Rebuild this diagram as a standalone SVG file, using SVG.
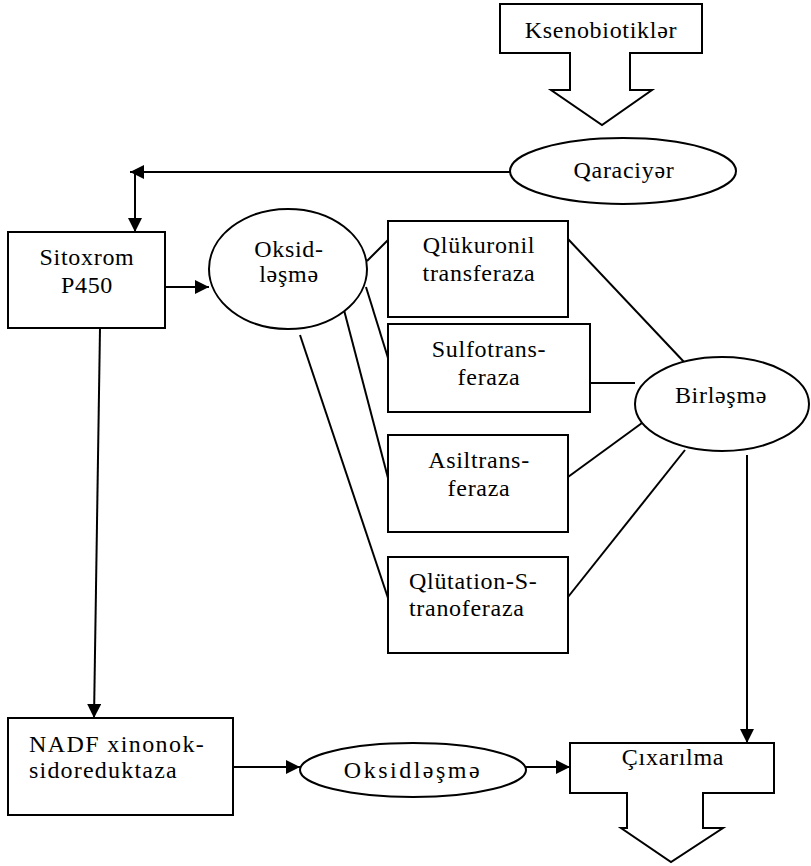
<svg xmlns="http://www.w3.org/2000/svg" width="811" height="866" viewBox="0 0 811 866">
  <defs>
    <marker id="arrow" viewBox="0 0 10 10" refX="10" refY="5" markerUnits="userSpaceOnUse" markerWidth="16" markerHeight="14" orient="auto">
      <path d="M0,0 L10,5 L0,10 Z" fill="#000"/>
    </marker>
  </defs>
  <rect width="811" height="866" fill="#fff"/>

  <!-- connectors -->
  <g id="connectors" fill="none" stroke="#000" stroke-width="2">
    <line x1="510" y1="172" x2="130" y2="172" marker-end="url(#arrow)"/>
    <line x1="135" y1="172" x2="135" y2="232" marker-end="url(#arrow)"/>
    <line x1="165" y1="287" x2="209" y2="287" marker-end="url(#arrow)"/>
    <line x1="100" y1="328" x2="94" y2="718" marker-end="url(#arrow)"/>
    <line x1="747" y1="455" x2="747" y2="743" marker-end="url(#arrow)"/>
    <line x1="233" y1="767" x2="300" y2="767" marker-end="url(#arrow)"/>
    <line x1="525" y1="767" x2="570" y2="767" marker-end="url(#arrow)"/>
    <!-- oxidation to transferases -->
    <line x1="367" y1="261" x2="388" y2="240"/>
    <line x1="366" y1="287" x2="388" y2="358"/>
    <line x1="344" y1="310" x2="388" y2="478"/>
    <line x1="300" y1="335" x2="388" y2="598"/>
    <!-- transferases to conjugation -->
    <line x1="568" y1="239" x2="685" y2="363"/>
    <line x1="590" y1="383" x2="635" y2="383"/>
    <line x1="568" y1="477" x2="642" y2="423"/>
    <line x1="568" y1="597" x2="685" y2="450"/>
  </g>

  <!-- node outlines -->
  <g fill="#fff" stroke="#000" stroke-width="2">
    <path id="ksenobiotikler-shape" d="M500,4 H702 V53 H630 V90 H652 L602,125 L551,90 H570 V53 H500 Z"/>
    <ellipse id="qaraciyer-shape" cx="623" cy="171" rx="113" ry="33"/>
    <rect id="sitoxrom-shape" x="8" y="232" width="157" height="96"/>
    <ellipse id="oksidlesme1-shape" cx="288" cy="269" rx="79" ry="60"/>
    <rect id="qlukuronil-shape" x="388" y="221" width="180" height="96"/>
    <rect id="sulfotransferaza-shape" x="388" y="324" width="202" height="88"/>
    <ellipse id="birlesme-shape" cx="722" cy="404" rx="87" ry="47"/>
    <rect id="asiltransferaza-shape" x="388" y="435" width="180" height="97"/>
    <rect id="qlutation-shape" x="388" y="557" width="180" height="96"/>
    <rect id="nadf-shape" x="8" y="718" width="225" height="97"/>
    <ellipse id="oksidlesme2-shape" cx="413" cy="770" rx="113" ry="27"/>
    <path id="cixarilma-shape" d="M570,743 H774 V793 H703 V828 H723 L671,862 L621,828 H627 V793 H570 Z"/>
  </g>

  <!-- node labels -->
  <g font-family="Liberation Serif" font-size="24" fill="#000" letter-spacing="0.7">
    <g id="ksenobiotikler" text-anchor="middle">
      <text x="601" y="38">Ksenobiotiklər</text>
    </g>
    <g id="qaraciyer" text-anchor="middle">
      <text x="624" y="178">Qaraciyər</text>
    </g>
    <g id="sitoxrom" text-anchor="middle">
      <text x="87" y="265">Sitoxrom</text>
      <text x="87" y="293">P450</text>
    </g>
    <g id="oksidlesme1" text-anchor="middle">
      <text x="289" y="257">Oksid-</text>
      <text x="289" y="282">ləşmə</text>
    </g>
    <g id="qlukuronil" text-anchor="middle">
      <text x="479" y="253">Qlükuronil</text>
      <text x="479" y="281">transferaza</text>
    </g>
    <g id="sulfotransferaza" text-anchor="middle">
      <text x="489" y="357">Sulfotrans-</text>
      <text x="489" y="385">feraza</text>
    </g>
    <g id="birlesme" text-anchor="middle">
      <text x="721" y="403">Birləşmə</text>
    </g>
    <g id="asiltransferaza" text-anchor="middle">
      <text x="479" y="468">Asiltrans-</text>
      <text x="479" y="496">feraza</text>
    </g>
    <g id="qlutation">
      <text x="409" y="589">Qlütation-S-</text>
      <text x="409" y="616">tranoferaza</text>
    </g>
    <g id="nadf">
      <text x="29" y="752" letter-spacing="1.4">NADF xinonok-</text>
      <text x="29" y="778" letter-spacing="1.2">sidoreduktaza</text>
    </g>
    <g id="oksidlesme2" text-anchor="middle">
      <text x="413" y="778" letter-spacing="2.5">Oksidləşmə</text>
    </g>
    <g id="cixarilma" text-anchor="middle">
      <text x="673" y="765">Çıxarılma</text>
    </g>
  </g>
</svg>
